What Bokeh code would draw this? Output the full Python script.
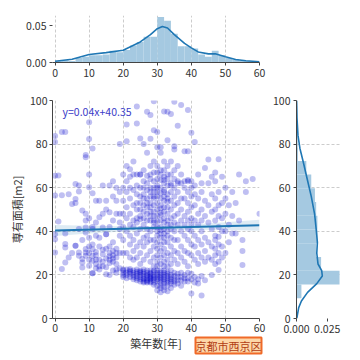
from bokeh.plotting import figure
from bokeh.layouts import column, row
from bokeh.models import Range1d, FixedTicker, Label, Title
from bokeh.embed import file_html
from bokeh.resources import INLINE

FONT = "Noto Sans CJK JP"

# ---------------- data ----------------
ages = list(range(0, 61))
areas = [
    [83.7, 81.0, 65.5, 56.4, 38.7, 36.4, 30.3],           # 0
    [65.6, 44.5],                                         # 1
    [85.5, 56.5, 22.7],                                   # 2
    [85.5, 34.2, 32.6, 25.7, 39.0],                       # 3
    [57.0, 28.0],                                         # 4
    [52.5, 30.0],                                         # 5
    [54.8, 53.0, 33.4, 33.4, 61.7],                       # 6
    [58.3, 30.3, 28.8, 61.0, 41.0],                       # 7
    [27.3, 25.7, 23.4, 49.5, 36.0],                       # 8
    [48.0, 41.8, 39.5, 31.9, 30.3, 28.8, 75.0, 74.0, 45.0],   # 9
    [90.0, 82.3, 60.2, 37.0, 30.0, 27.0, 24.2, 46.0, 33.0, 66.0],  # 10
    [57.4, 34.0, 31.8, 28.8, 26.5, 20.7, 20.7, 42.0, 41.0, 78.0],  # 11
    [54.0, 38.0, 27.0, 25.0, 44.0, 29.0, 23.0, 30.5],     # 12
    [46.4, 54.0, 24.0, 22.5, 33.0, 37.0, 27.0],           # 13
    [48.0, 41.8, 26.0, 29.5, 61.0, 31.5, 24.0],           # 14
    [50.0, 38.7, 38.7, 23.5, 20.3, 27.5, 32.0, 54.0],     # 15
    [61.0, 48.7, 33.0, 27.0, 25.5, 30.0, 42.0, 20.0, 28.5],   # 16
    [56.0, 31.0, 29.0, 26.0, 22.0, 35.0, 45.0, 63.0, 27.5],   # 17
    [54.0, 30.0, 28.0, 25.0, 21.0, 32.0, 48.0, 60.0, 22.5],   # 18
    [48.0, 44.0, 41.0, 38.0, 30.0, 23.0, 58.0, 80.0],     # 19
    [22.5, 22.0, 54.0, 48.0, 42.0, 36.0, 30.0, 60.0, 66.0, 19.0, 21.0, 20.0],  # 20
    [89.0, 81.3, 22.5, 21.0, 18.5, 46.0, 51.0, 58.0, 63.0, 40.0, 30.0, 70.0, 20.0],  # 21
    [22.7, 21.5, 20.5, 48.0, 55.0, 43.0, 68.5, 65.0, 34.0, 38.0, 28.0, 60.0, 19.0, 22.0],  # 22
    [22.0, 21.0, 19.0, 45.0, 52.0, 59.0, 66.0, 72.0, 36.0, 31.0, 27.0, 42.0, 20.0, 18.0],  # 23
    [97.2, 89.5, 22.5, 21.5, 19.5, 17.5, 46.0, 53.0, 57.0, 61.0, 66.0, 39.0, 33.0, 28.0,
     20.5, 18.5, 44.0, 50.0],  # 24
    [82.6, 22.0, 21.0, 19.0, 17.0, 45.5, 50.0, 56.0, 66.0, 66.0, 60.0, 35.0, 30.0, 25.0, 41.0,
     20.0, 18.0, 21.5, 47.0, 53.0],  # 25
    [20.5, 18.5, 17.0, 16.5, 22.5, 46.0, 52.0, 57.0, 63.0, 68.0, 37.0, 43.0, 33.0, 27.0, 60.0, 80.0,
     19.5, 21.5, 18.0, 49.0, 55.0],  # 26
    [94.8, 22.0, 20.0, 18.5, 17.0, 16.5, 48.0, 51.0, 55.0, 59.0, 62.0, 65.5, 76.0, 38.0, 41.0, 35.0, 29.0,
     21.0, 19.5, 17.5, 45.0, 53.0],  # 27
    [93.3, 82.5, 22.0, 20.5, 19.0, 18.0, 17.0, 45.0, 49.0, 53.0, 56.0, 60.0, 64.0, 66.0, 70.0, 40.0, 36.0,
     31.0, 26.0, 21.0, 19.5, 16.5, 18.5, 47.0, 51.0, 58.0],  # 28
    [99.7, 86.4, 72.0, 21.5, 20.0, 18.5, 17.5, 15.5, 44.0, 47.0, 52.0, 55.0, 58.0, 63.0, 67.0, 42.0, 36.0,
     33.0, 28.0, 24.0, 22.0, 19.0, 16.5, 45.0, 49.0, 56.0, 60.0],  # 29
    [85.6, 78.5, 22.0, 21.0, 20.0, 19.0, 18.0, 17.0, 15.0, 13.0, 44.5, 47.0, 50.0, 53.0, 56.0, 58.0, 61.0,
     64.0, 67.0, 70.0, 40.0, 38.0, 35.0, 32.0, 29.0, 26.0, 24.0, 42.0, 60.0],  # 30
    [78.5, 76.0, 22.0, 21.0, 20.0, 19.0, 18.5, 17.5, 16.5, 15.0, 14.0, 12.0, 45.0, 47.5, 50.5, 52.0, 55.0,
     57.5, 60.0, 63.5, 66.0, 68.0, 40.5, 39.0, 37.0, 34.0, 31.0, 28.0, 25.0, 42.0, 48.5],  # 31
    [95.0, 63.5, 22.0, 21.0, 20.0, 19.0, 18.0, 17.0, 16.0, 14.5, 13.0, 46.0, 49.0, 51.0, 54.0, 56.0, 59.0,
     62.0, 65.0, 68.0, 72.0, 41.0, 39.0, 37.0, 35.0, 32.0, 29.0, 26.0, 24.0, 44.0, 58.0],  # 32
    [94.8, 81.8, 66.0, 21.5, 20.5, 19.5, 18.5, 17.5, 16.5, 15.0, 12.5, 45.0, 48.0, 51.0, 53.5, 57.0, 61.0,
     64.0, 70.0, 40.0, 38.0, 35.0, 30.0, 27.0, 24.0, 43.0, 55.0],  # 33
    [93.8, 62.0, 22.0, 20.0, 19.0, 18.0, 17.0, 16.0, 14.0, 46.0, 50.0, 54.0, 58.0, 61.0, 66.0, 72.0, 41.0,
     37.0, 33.0, 29.0, 25.0, 43.0],  # 34
    [99.4, 77.5, 79.0, 21.0, 19.5, 18.0, 17.0, 15.5, 47.0, 52.0, 56.0, 60.0, 64.0, 68.0, 40.0, 36.0, 31.0,
     27.0, 44.0],  # 35
    [88.4, 63.0, 20.5, 19.0, 17.5, 16.0, 48.0, 53.0, 58.0, 62.0, 36.0, 30.0, 25.0, 43.0, 70.0],  # 36
    [97.9, 21.0, 19.0, 17.5, 15.0, 50.0, 55.0, 62.0, 40.0, 33.0, 28.0, 45.0, 66.0],  # 37
    [76.7, 20.0, 18.5, 17.0, 47.0, 55.0, 60.0, 63.0, 38.0, 31.0, 26.0, 43.0],  # 38
    [95.6, 76.7, 63.5, 63.0, 21.0, 18.5, 17.0, 49.0, 53.0, 58.0, 41.0, 36.0, 30.0, 24.0, 45.0],  # 39
    [85.2, 63.0, 20.5, 18.0, 11.5, 46.0, 51.0, 56.0, 60.0, 40.0, 34.0, 29.0, 43.0],  # 40
    [81.0, 19.0, 16.5, 45.0, 52.0, 57.0, 38.0, 33.0, 27.0, 61.0],  # 41
    [18.0, 16.0, 48.0, 55.0, 43.0, 36.0, 30.0, 25.0, 66.0],  # 42
    [10.5, 19.5, 50.0, 58.0, 62.0, 40.0, 34.0, 28.0, 45.0],  # 43
    [17.5, 47.0, 54.0, 37.0, 31.0, 26.0, 69.0],          # 44
    [72.9, 52.0, 44.0, 35.0, 28.0, 62.0],                # 45
    [20.0, 57.0, 49.0, 41.0, 33.0, 27.0, 65.0],          # 46
    [63.0, 55.0, 50.0, 45.0, 38.0, 36.0, 32.0, 29.0, 25.0, 67.0],  # 47
    [73.0, 58.0, 52.0, 47.0, 42.0, 37.5, 34.0, 30.0, 22.3, 26.0],  # 48
    [65.0, 53.0, 46.0, 40.0, 33.0, 28.0],                # 49
    [48.0, 40.0, 30.0, 60.0, 55.0],                      # 50
    [52.0, 43.0, 35.0],                                  # 51
    [58.0, 47.0, 39.0],                                  # 52
    [53.0, 39.0],                                        # 53
    [45.0, 66.0],                                        # 54
    [36.0, 31.0, 24.5],                                  # 55
    [63.0, 58.0],                                        # 56
    [],                                                  # 57
    [64.0],                                              # 58
    [],                                                  # 59
    [48.0],                                              # 60
]

# regression shown in the chart
fit_slope = 0.04
fit_intercept = 40.35
fit_x = [0, 60]
ci_x = [0, 10, 20, 30, 40, 50, 60]
ci_half = [2.5, 1.8, 1.2, 0.9, 1.2, 1.8, 2.5]

# marginal histogram of age (bin left edges, width 2, density)
age_bin_left = list(range(0, 60, 2))
age_bin_density = [0.002, 0.003, 0.002, 0.006, 0.008, 0.010, 0.010, 0.011, 0.016, 0.014,
                   0.017, 0.023, 0.028, 0.035, 0.035, 0.062, 0.057, 0.039, 0.022, 0.022,
                   0.019, 0.011, 0.008, 0.016, 0.010, 0.006, 0.004, 0.003, 0.002, 0.001]
age_kde_x = [0, 5, 10, 15, 20, 25, 28, 30, 31.5, 33, 35, 38, 40, 42, 45, 47, 50, 53, 56, 60]
age_kde_y = [0.0018, 0.0045, 0.011, 0.0135, 0.0167, 0.028, 0.038, 0.046, 0.049, 0.047,
             0.038, 0.026, 0.020, 0.0144, 0.0117, 0.012, 0.0077, 0.004, 0.0023, 0.001]

# marginal histogram of area (bin edges, density)
area_bin_edges = [9.3, 15.6, 21.9, 28.2, 34.5, 40.8, 47.1, 53.4, 59.7, 66.0, 72.3, 78.6, 84.9, 91.2, 97.5, 103.8]
area_bin_density = [0.004, 0.035, 0.020, 0.016, 0.017, 0.017, 0.016, 0.015, 0.012, 0.008,
                    0.0012, 0.0010, 0.0006, 0.0005, 0.0003]
area_kde_y = [0, 5, 8, 12, 16, 19.5, 22, 25, 30, 35, 41, 48, 56, 64, 72, 78, 84, 92, 100]
area_kde_d = [0.0002, 0.0018, 0.004, 0.009, 0.0165, 0.021, 0.0205, 0.0175, 0.0165, 0.017,
              0.016, 0.0147, 0.012, 0.0087, 0.0054, 0.0028, 0.0012, 0.0004, 0.0001]

x_ticks = [0, 10, 20, 30, 40, 50, 60]
y_ticks = [0, 20, 40, 60, 80, 100]

# ---------------- build ----------------
px, py = [], []
for a, ys in zip(ages, areas):
    for v in ys:
        px.append(a)
        py.append(v)

C0 = "#1f77b4"
HIST = "#a5c9e1"
AX = "#444444"
GRID = "#cccccc"

x_range = Range1d(-0.75, 60)
y_range = Range1d(0, 100)


def style(p):
    p.outline_line_color = None
    p.background_fill_color = "white"
    for ax in list(p.xaxis) + list(p.yaxis):
        ax.major_tick_out = 3
        ax.major_tick_in = 0
        ax.minor_tick_line_color = None
        ax.major_label_standoff = 3
        ax.axis_line_color = AX
        ax.major_tick_line_color = AX
        ax.major_label_text_color = "#333333"
        ax.major_label_text_font = FONT
        ax.major_label_text_font_size = "10.5px"
        ax.axis_label_text_font = FONT
        ax.axis_label_text_font_size = "11px"
        ax.axis_label_text_font_style = "normal"
        ax.axis_label_text_color = "#333333"
    for g in list(p.xgrid) + list(p.ygrid):
        g.grid_line_color = GRID
        g.grid_line_dash = "3 2"
        g.grid_line_width = 1


# top marginal
p_top = figure(width=268, height=92, x_range=x_range, y_range=Range1d(0, 0.064),
               output_backend="svg", toolbar_location=None,
               min_border_left=52, min_border_right=9, min_border_top=15, min_border_bottom=30)
p_top.quad(left=age_bin_left, right=[v + 2 for v in age_bin_left], top=age_bin_density, bottom=0,
           fill_color=HIST, line_color=None)
p_top.line(age_kde_x, age_kde_y, line_color=C0, line_width=1.6)
p_top.xaxis.ticker = FixedTicker(ticks=x_ticks)
p_top.yaxis.ticker = FixedTicker(ticks=[0, 0.05])
p_top.yaxis.major_label_overrides = {0: "0.00", 0.05: "0.05"}
style(p_top)
p_top.ygrid.grid_line_color = None
p_top.yaxis.axis_line_color = None

# main scatter
p_main = figure(width=268, height=266, x_range=x_range, y_range=y_range,
                output_backend="svg", toolbar_location=None,
                min_border_left=52, min_border_right=9, min_border_top=8, min_border_bottom=40)
ci_lo = [fit_intercept + fit_slope * x - h for x, h in zip(ci_x, ci_half)]
ci_hi = [fit_intercept + fit_slope * x + h for x, h in zip(ci_x, ci_half)]
p_main.varea(x=ci_x, y1=ci_lo, y2=ci_hi, fill_color=C0, fill_alpha=0.15)
p_main.scatter(px, py, size=6, fill_color="mediumblue", fill_alpha=0.25, line_color=None)
p_main.line(fit_x, [fit_intercept + fit_slope * x for x in fit_x], line_color=C0, line_width=2)
p_main.xaxis.ticker = FixedTicker(ticks=x_ticks)
p_main.yaxis.ticker = FixedTicker(ticks=y_ticks)
p_main.xaxis.axis_label = "築年数[年]"
p_main.yaxis.axis_label = "専有面積[m2]"
style(p_main)
p_main.xaxis.major_label_standoff = 2
p_main.xaxis.axis_label_standoff = 0
p_main.yaxis.major_label_standoff = 2
p_main.yaxis.axis_label_standoff = 2
p_main.add_layout(Label(x=2.2, y=94.8, text="y={:.2f}x+{:.2f}".format(fit_slope, fit_intercept),
                        text_color="#3c3cc8", text_font=FONT, text_font_size="10.5px",
                        text_baseline="middle", text_align="left"))
badge = Title(text="京都市西京区", align="left", offset=143, vertical_align="top",
              standoff=-32, text_color="#b23c14", text_font=FONT, text_font_size="11px",
              text_font_style="normal", background_fill_color="#fdd7a8",
              border_line_color="#f06a28", border_line_width=2)
p_main.add_layout(badge, "below")

# right marginal
p_right = figure(width=83, height=266, x_range=Range1d(0, 0.0366), y_range=y_range,
                 output_backend="svg", toolbar_location=None,
                 min_border_left=28, min_border_right=10, min_border_top=8, min_border_bottom=40)
p_right.quad(left=0, right=area_bin_density, bottom=area_bin_edges[:-1], top=area_bin_edges[1:],
             fill_color=HIST, line_color=None)
p_right.line(area_kde_d, area_kde_y, line_color=C0, line_width=1.6)
p_right.xaxis.ticker = FixedTicker(ticks=[0, 0.025])
p_right.xaxis.major_label_overrides = {0: "0.000", 0.025: "0.025"}
p_right.yaxis.ticker = FixedTicker(ticks=y_ticks)
style(p_right)
p_right.xgrid.grid_line_color = None
p_right.xaxis.axis_line_color = None

layout = column(p_top, row(p_main, p_right))
open("out.html", "w").write(file_html(layout, INLINE))
